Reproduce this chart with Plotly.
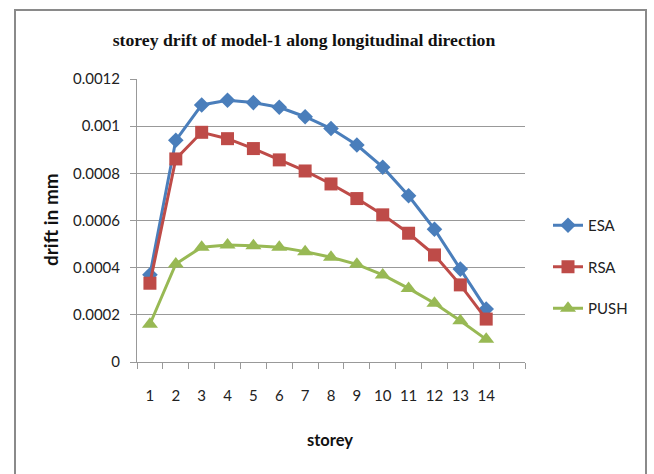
import plotly.graph_objects as go

storeys = list(range(1, 15))
storey_labels = [str(s) for s in storeys]
esa = [0.00037, 0.00094, 0.00109, 0.00111, 0.00110, 0.00108, 0.00104, 0.00099, 0.00092, 0.000826, 0.000705, 0.000563, 0.000394, 0.000225]
rsa = [0.000334, 0.000861, 0.000974, 0.000947, 0.000905, 0.000857, 0.00081, 0.000755, 0.000693, 0.000624, 0.000546, 0.000454, 0.000327, 0.000182]
push = [0.00016, 0.000416, 0.000487, 0.000496, 0.000493, 0.000487, 0.000468, 0.000444, 0.000414, 0.000369, 0.000312, 0.000249, 0.000175, 0.000096]
y_ticks = [0, 0.0002, 0.0004, 0.0006, 0.0008, 0.001, 0.0012]
y_labels = ["0", "0.0002", "0.0004", "0.0006", "0.0008", "0.001", "0.0012"]

series = [
    ("ESA", esa, "#4A7EBB", "diamond", 12),
    ("RSA", rsa, "#BE4B48", "square", 13),
    ("PUSH", push, "#98B954", "triangle-up", 14),
]

fig = go.Figure()
for name, vals, col, sym, sz in series:
    fig.add_trace(go.Scatter(
        x=storeys, y=vals, name=name, mode="lines+markers",
        line=dict(color=col, width=3),
        marker=dict(symbol=sym, size=sz, color=col),
        legendgroup=name,
    ))

W, H = 654, 474
L, R, T, B = 137, 525, 79, 362
pw, ph = R - L, B - T

def px(x):
    return (x - L) / pw

def py(y):
    return (B - y) / ph

fig.update_layout(
    width=W, height=H,
    margin=dict(l=L, r=W - R, t=T, b=H - B),
    paper_bgcolor="white", plot_bgcolor="white",
    showlegend=True,
    legend=dict(x=px(548), y=py(209), xanchor="left", yanchor="top",
                font=dict(family="Lato", size=15, color="#222"),
                bgcolor="rgba(0,0,0,0)", tracegroupgap=19, itemwidth=30),
    title=dict(text="<b>storey drift of model-1 along longitudinal direction</b>",
               x=304 / W, xanchor="center", xref="container",
               y=1 - 40 / H, yanchor="middle", yref="container",
               font=dict(family="Liberation Serif", size=17.7, color="#111")),
    xaxis=dict(range=[0.5, 15.5], tickvals=storeys, ticktext=storey_labels,
               ticks="", showgrid=False, zeroline=False,
               showline=True, linecolor="#999", linewidth=1,
               ticklabelstandoff=20,
               tickfont=dict(family="Lato", size=15, color="#222"),
               minor=dict(tick0=0.5, dtick=1, ticks="outside", ticklen=6,
                          tickcolor="#999", showgrid=False)),
    yaxis=dict(range=[0, 0.0012], tickvals=y_ticks, ticktext=y_labels,
               showgrid=True, gridcolor="#999", gridwidth=1,
               zeroline=False, showline=True, linecolor="#999",
               ticks="outside", ticklen=6, tickcolor="#999",
               ticklabelstandoff=7,
               tickfont=dict(family="Lato", size=15, color="#222")),
    annotations=[
        dict(text="<b>drift in mm</b>", x=px(50), y=py(220), xref="paper", yref="paper",
             textangle=-90, showarrow=False, xanchor="center", yanchor="middle",
             font=dict(family="Lato", size=19, color="#111")),
        dict(text="<b>storey</b>", x=px(330), y=py(440), xref="paper", yref="paper",
             showarrow=False, xanchor="center", yanchor="middle",
             font=dict(family="Lato", size=16.5, color="#111")),
    ],
    shapes=[
        dict(type="rect", xref="paper", yref="paper",
             x0=px(15), x1=px(646), y0=py(485), y1=py(10),
             line=dict(color="#8a8a8a", width=2), fillcolor="rgba(0,0,0,0)", layer="below"),
    ],
)

fig.write_html("out.html")
